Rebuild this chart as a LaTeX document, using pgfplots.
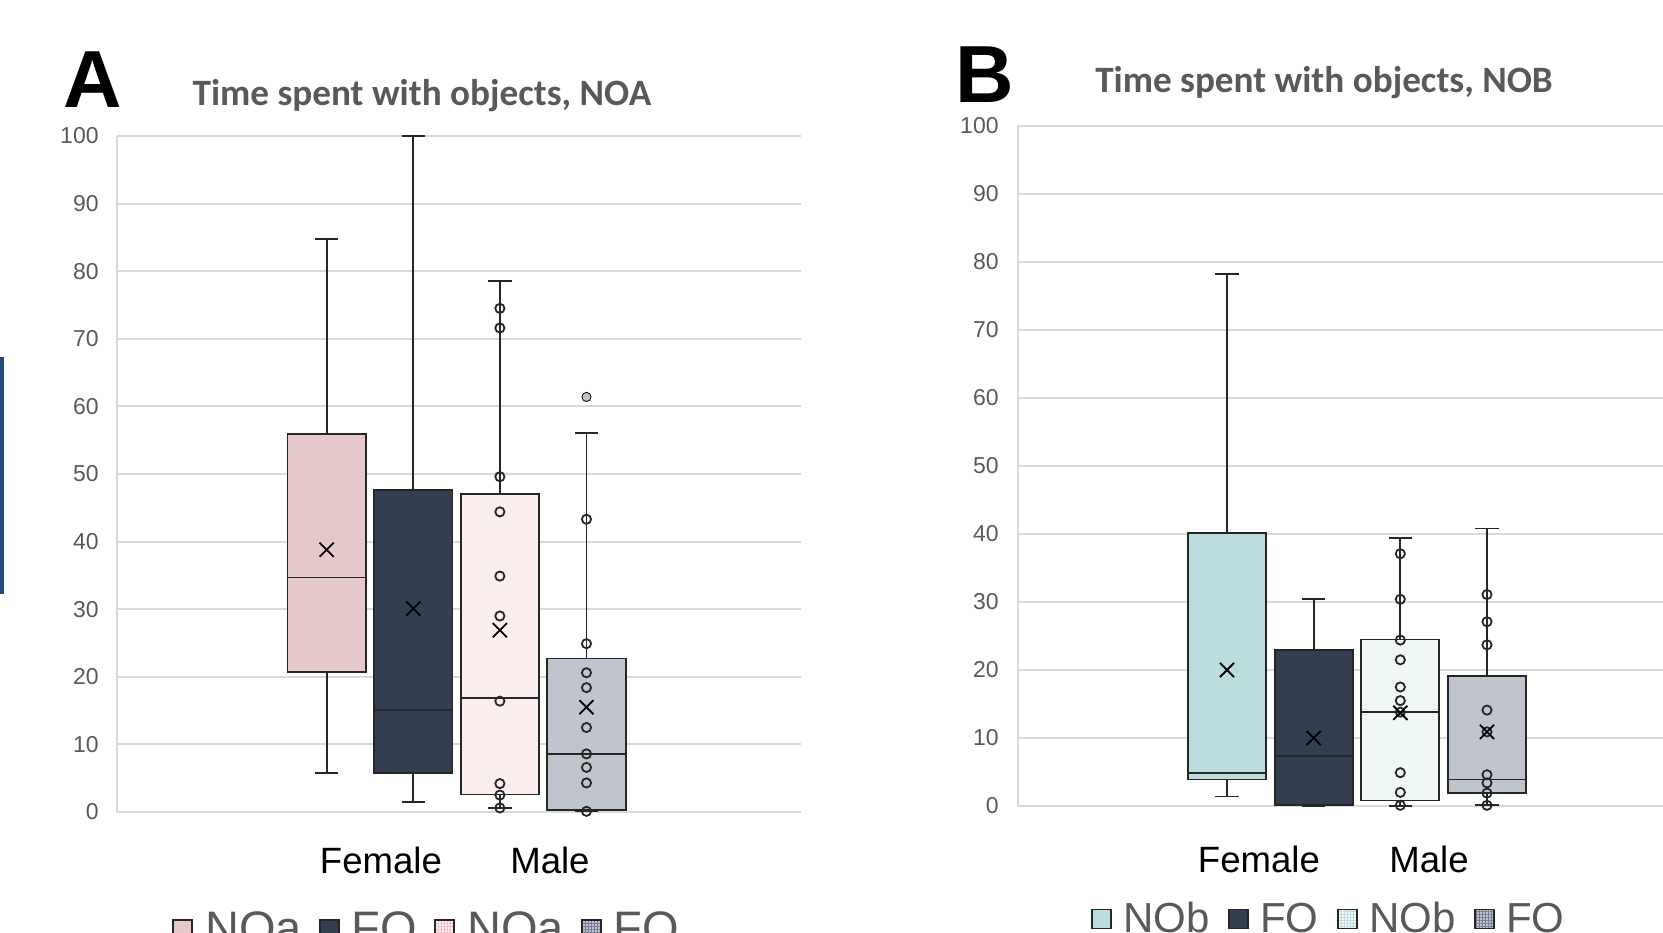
\documentclass[border=0pt]{standalone}
\usepackage{fontspec}
\setmainfont{Liberation Sans}
\newfontfamily\calibri{Carlito}
\usepackage{pgfplots}
\pgfplotsset{compat=1.18}
\usepgfplotslibrary{statistics}
\usetikzlibrary{patterns.meta}

\definecolor{gridgray}{HTML}{D9D9D9}
\definecolor{tickgray}{HTML}{595959}
\definecolor{boxline}{HTML}{262626}
\definecolor{barblue}{HTML}{1F4E79}
\definecolor{pinkA}{HTML}{E6C8CB}
\definecolor{lightpink}{HTML}{FAEDEE}
\definecolor{pinkgrid}{HTML}{E6C4C8}
\definecolor{darkFO}{HTML}{333F50}
\definecolor{greyFO}{HTML}{BFC4CD}
\definecolor{greygrid}{HTML}{737C8E}
\definecolor{tealB}{HTML}{BDDCDD}
\definecolor{lightteal}{HTML}{F0F7F7}
\definecolor{tealgrid}{HTML}{BCDADB}

\pgfplotsset{
  boxpanel/.style={
    scale only axis, width=342pt,
    ymin=0, ymax=100, ytick={0,10,...,100},
    axis x line*=bottom, axis y line*=left,
    axis line style={-, gridgray, line width=1pt},
    ymajorgrids, grid style={gridgray, line width=1pt},
    major tick length=0pt,
    /pgf/number format/assume math mode=true,
    yticklabel style={font=\fontsize{11.5}{12}\selectfont, text=tickgray, anchor=east, inner sep=0pt},
    xticklabel style={font=\fontsize{18.3}{20}\selectfont, text=black, anchor=base, inner sep=0pt},
    boxplot/draw direction=y,
    boxplot/whisker extend=0.27,
    legend columns=4, legend cell align=left,
    legend style={draw=none, fill=none, inner sep=0pt, anchor=north west,
      nodes={inner sep=0pt}, text=tickgray},
  },
  plainbox/.style={draw=boxline, line width=0.9pt, fill=#1},
  patbox/.style 2 args={draw=boxline, line width=0.9pt, fill=#1,
    postaction={pattern={Hatch[angle=0,distance=1.5pt,line width=0.35pt]}, pattern color=#2}},
  legbox/.style={legend image code/.code={\draw[##1] (0pt,-4.75pt) rectangle (9.5pt,4.75pt);}},
  pts/.style={only marks, mark=o, mark size=2.3pt, mark options={line width=0.9pt, draw=boxline}},
  means/.style={only marks, mark=x, mark size=5pt, mark options={line width=0.9pt, draw=black}},
}

\begin{document}
\begin{tikzpicture}[x=1pt,y=1pt]
\useasboundingbox (0,0) rectangle (831.5,466);
\fill[barblue] (0,169) rectangle (2,287.5);

\node[anchor=base, font=\fontsize{40.5}{44}\selectfont\bfseries] at (46.5,412) {A};
\node[anchor=base, font=\fontsize{40.5}{44}\selectfont\bfseries] at (492.25,414.5) {B};
\node[anchor=base, text=tickgray, font=\calibri\bfseries\fontsize{18.6}{20}\selectfont] at (211,413) {Time spent with objects, NOA};
\node[anchor=base, text=tickgray, font=\calibri\bfseries\fontsize{18.6}{20}\selectfont] at (662,419.5) {Time spent with objects, NOB};

% panel A
\begin{axis}[boxpanel, at={(58.5pt,60pt)}, anchor=south west, height=338pt,
  xmin=-1.421, xmax=6.477, xtick={1.627,3.578}, xticklabels={Female,Male},
  xticklabel style={yshift=-30.5pt}, yticklabel style={xshift=-9pt},
  boxplot/box extend=0.906,
  legend style={at={(0.0804,-0.147)}, font=\fontsize{23.5}{28}\selectfont,
    /tikz/every odd column/.append style={column sep=6pt},
    /tikz/every even column/.append style={column sep=8.6pt}}]
\addlegendimage{legbox, plainbox=pinkA}\addlegendentry{NOa}
\addlegendimage{legbox, plainbox=darkFO}\addlegendentry{FO}
\addlegendimage{legbox, patbox={lightpink}{pinkgrid}}\addlegendentry{NOa}
\addlegendimage{legbox, patbox={greyFO}{greygrid}}\addlegendentry{FO}
\addplot[plainbox=pinkA, boxplot prepared={draw position=1, lower whisker=5.8,
  lower quartile=20.7, median=34.7, upper quartile=55.9, upper whisker=84.8}] coordinates {};
\addplot[plainbox=darkFO, boxplot prepared={draw position=2, lower whisker=1.5,
  lower quartile=5.8, median=15.1, upper quartile=47.6, upper whisker=100}] coordinates {};
\addplot[patbox={lightpink}{pinkgrid}, boxplot prepared={draw position=3, lower whisker=0.6,
  lower quartile=2.6, median=16.9, upper quartile=47.0, upper whisker=78.6}] coordinates {};
\addplot[patbox={greyFO}{greygrid}, boxplot prepared={draw position=4, lower whisker=0.1,
  lower quartile=0.25, median=8.6, upper quartile=22.7, upper whisker=56.1}] coordinates {};
\addplot[pts] coordinates {(3,0.6) (3,2.5) (3,4.2) (3,16.4) (3,29.0) (3,34.9)
  (3,44.4) (3,49.6) (3,71.6) (3,74.5)};
\addplot[pts] coordinates {(4,0.1) (4,4.3) (4,6.6) (4,8.6) (4,12.5) (4,18.4)
  (4,20.6) (4,24.9) (4,43.3)};
\addplot[pts, mark=*, mark options={fill=greyFO}] coordinates {(4,61.4)};
\addplot[means] coordinates {(1,38.8) (2,30.1) (3,26.9) (4,15.5)};
\end{axis}

% panel B
\begin{axis}[boxpanel, at={(509pt,63pt)}, anchor=south west, height=340pt,
  xmin=-1.411, xmax=6.481, xtick={1.369,3.331}, xticklabels={Female,Male},
  xticklabel style={yshift=-33pt}, yticklabel style={xshift=-9.5pt},
  boxplot/box extend=0.90,
  legend style={at={(0.1067,-0.1411)}, font=\fontsize{21}{25}\selectfont,
    /tikz/every odd column/.append style={column sep=5.5pt},
    /tikz/every even column/.append style={column sep=9.4pt}}]
\addlegendimage{legbox, plainbox=tealB}\addlegendentry{NOb}
\addlegendimage{legbox, plainbox=darkFO}\addlegendentry{FO}
\addlegendimage{legbox, patbox={lightteal}{tealgrid}}\addlegendentry{NOb}
\addlegendimage{legbox, patbox={greyFO}{greygrid}}\addlegendentry{FO}
\addplot[plainbox=tealB, boxplot prepared={draw position=1, lower whisker=1.4,
  lower quartile=3.9, median=4.9, upper quartile=40.2, upper whisker=78.2}] coordinates {};
\addplot[plainbox=darkFO, boxplot prepared={draw position=2, lower whisker=0,
  lower quartile=0.1, median=7.3, upper quartile=23.0, upper whisker=30.5}] coordinates {};
\addplot[patbox={lightteal}{tealgrid}, boxplot prepared={draw position=3, lower whisker=0,
  lower quartile=0.8, median=13.8, upper quartile=24.5, upper whisker=39.4}] coordinates {};
\addplot[patbox={greyFO}{greygrid}, boxplot prepared={draw position=4, lower whisker=0.1,
  lower quartile=1.9, median=3.9, upper quartile=19.1, upper whisker=40.8}] coordinates {};
\addplot[pts] coordinates {(3,0.1) (3,2.0) (3,4.9) (3,13.8) (3,15.5) (3,17.5)
  (3,21.5) (3,24.4) (3,30.4) (3,37.1)};
\addplot[pts] coordinates {(4,0.1) (4,1.9) (4,3.4) (4,4.6) (4,10.9) (4,14.1)
  (4,23.7) (4,27.1) (4,31.1)};
\addplot[means] coordinates {(1,20.0) (2,10.0) (3,13.7) (4,10.9)};
\end{axis}
\end{tikzpicture}
\end{document}
